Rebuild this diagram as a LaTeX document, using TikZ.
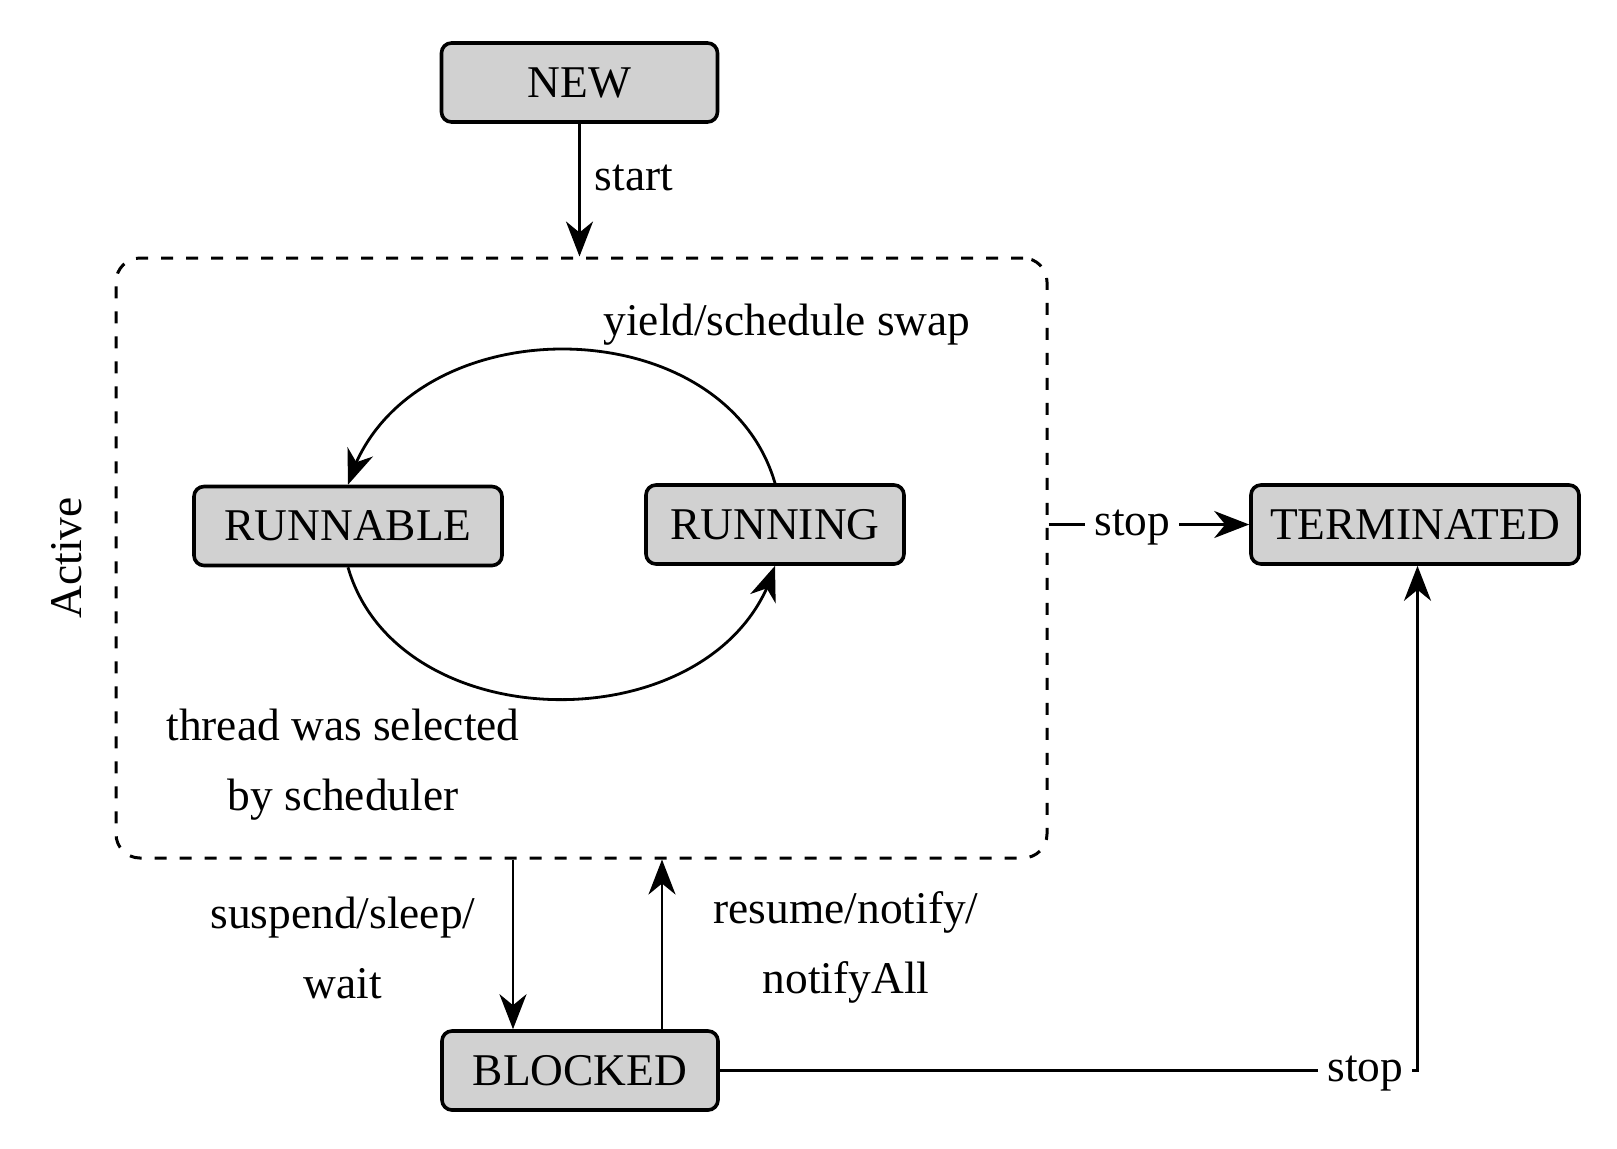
\documentclass[tikz,border=0pt]{standalone}
\usepackage{fontspec}
\setmainfont{Liberation Serif}
\usetikzlibrary{arrows.meta,bending}
\begin{document}
\begin{tikzpicture}[x=0.5pt,y=-0.5pt,
  every node/.style={font=\fontsize{22.7pt}{35pt}\selectfont},
  state/.style={draw, line width=1.8pt, rounded corners=5pt, fill=black!18,
    minimum height=39.5pt, inner sep=0pt},
  actbox/.style={draw, line width=1.5pt, dash pattern=on 6pt off 6.5pt,
    rounded corners=12pt, minimum width=465.5pt, minimum height=300pt, inner sep=0pt},
  arr/.style={line width=1.4pt, -{Stealth[length=17.5pt,width=13.5pt,inset=5.5pt]}},
  lbl/.style={fill=white, inner xsep=4.5pt, inner ysep=1pt, yshift=-1.5pt},
  txt/.style={inner sep=0pt}]
\useasboundingbox (0,0) rectangle (1617,1148);

% states
\node[state, minimum width=138pt] (NEW) at (579.5,82.5) {NEW};
\node[actbox] (act) at (581.5,558) {};
\node[state, minimum width=154pt] (RUNNABLE) at (348,526) {RUNNABLE};
\node[state, minimum width=129pt] (RUNNING) at (775,524.5) {RUNNING};
\node[state, minimum width=164pt] (TERMINATED) at (1415,524.5) {TERMINATED};
\node[state, minimum width=138pt] (BLOCKED) at (580,1070.5) {BLOCKED};

% labels
\node[txt, rotate=90] (active) at (67,558) {Active};
\node[txt, anchor=base] (start) at (634,190) {start};
\node[txt] (yieldlbl) at (787,325) {yield/schedule swap};
\node[txt, align=center] (sellbl) at (343,765) {thread was selected\\by scheduler};
\node[txt, align=center] (susplbl) at (343,948) {suspend/sleep/\\wait};
\node[txt, align=center] (reslbl) at (846,947) {resume/notify/\\notifyAll};

% connectors
\draw[arr] (NEW.south) -- (NEW.south |- act.north);
\draw[arr] (RUNNING.north) .. controls (723,304) and (401,304) .. (RUNNABLE.north);
\draw[arr] (RUNNABLE.south) .. controls (399,744) and (724,744) .. (RUNNING.south);
\draw[arr] (act.east |- TERMINATED.west) -- node[lbl, pos=0.417] (stop1) {stop} (TERMINATED.west);
\draw[arr] ([xshift=-33.5pt]BLOCKED.north |- act.south) -- ([xshift=-33.5pt]BLOCKED.north);
\draw[arr] ([xshift=41pt]BLOCKED.north) -- ([xshift=41pt]BLOCKED.north |- act.south);
\draw[arr] (BLOCKED.east) -| node[lbl, pos=0.4625] (stop2) {stop} ([xshift=1.25pt]TERMINATED.south);
\end{tikzpicture}
\end{document}
